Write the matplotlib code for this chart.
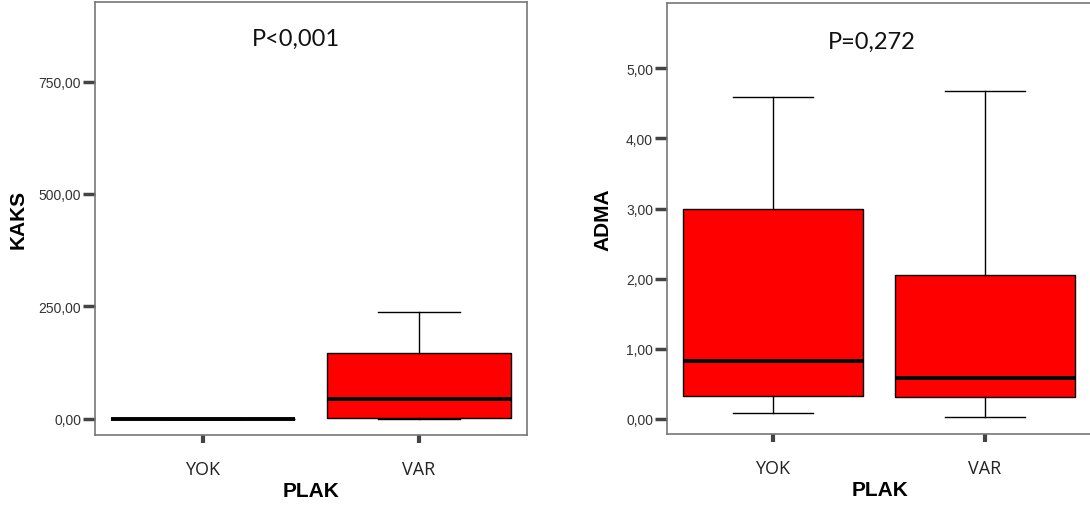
import matplotlib.pyplot as plt

# PLAK groups
groups = ['YOK', 'VAR']

# KAKS box stats (whislo, q1, med, q3, whishi)
kaks_whislo = [0.0, 0.0]
kaks_q1 = [0.0, 2.0]
kaks_med = [0.0, 44.0]
kaks_q3 = [0.0, 146.0]
kaks_whishi = [0.0, 238.0]

# ADMA box stats
adma_whislo = [0.09, 0.03]
adma_q1 = [0.33, 0.31]
adma_med = [0.82, 0.58]
adma_q3 = [3.00, 2.05]
adma_whishi = [4.59, 4.68]

kaks_ticks = [0, 250, 500, 750]
adma_ticks = [0, 1, 2, 3, 4, 5]


def box_stats(lo, q1, med, q3, hi):
    out = []
    for i in range(len(groups)):
        out.append({'label': groups[i], 'whislo': lo[i], 'q1': q1[i],
                    'med': med[i], 'q3': q3[i], 'whishi': hi[i], 'fliers': []})
    return out


def draw_panel(ax, stats, ticks, ylim, ylabel, ptext, pxy):
    ax.bxp(stats, positions=[0, 1], widths=0.85, capwidths=0.38,
           patch_artist=True, showfliers=False,
           boxprops=dict(facecolor='#ff0000', edgecolor='black', linewidth=1.0),
           medianprops=dict(color='black', linewidth=2.8, solid_capstyle='butt'),
           whiskerprops=dict(color='black', linewidth=1.0),
           capprops=dict(color='black', linewidth=1.0))
    ax.set_xlim(-0.5, 1.5)
    ax.set_ylim(*ylim)
    ax.set_yticks(ticks)
    # comma as decimal separator
    ax.set_yticklabels([('%.2f' % t).replace('.', ',') for t in ticks],
                       fontsize=10, family='Liberation Sans', color='#333333')
    ax.set_xticks([0, 1])
    ax.set_xticklabels(groups, fontsize=13, family='Open Sans', color='#222222')
    ax.tick_params(axis='y', length=9, width=2.5, color='#444444', pad=1)
    ax.tick_params(axis='x', length=6, width=3, color='#444444', pad=12)
    for s in ax.spines.values():
        s.set_color('#777777')
        s.set_linewidth(1.2)
    ax.set_xlabel('PLAK', fontsize=15, fontweight='bold', family='Liberation Sans', labelpad=2)
    ax.set_ylabel(ylabel, fontsize=15, fontweight='bold', family='Liberation Sans')
    ax.text(pxy[0], pxy[1], ptext, transform=ax.transAxes, fontsize=17,
            family='Lato', ha='center', va='center', color='#111111')


fig = plt.figure(figsize=(10.9, 5.1), dpi=100)
W, H = 1090.0, 510.0
ax1 = fig.add_axes([95 / W, (H - 436) / H, 432 / W, 433 / H])
ax2 = fig.add_axes([667 / W, (H - 435) / H, 426 / W, 431 / H])

draw_panel(ax1, box_stats(kaks_whislo, kaks_q1, kaks_med, kaks_q3, kaks_whishi),
           kaks_ticks, (-35.6, 926.7), 'KAKS', 'P<0,001', (0.465, 0.915))
draw_panel(ax2, box_stats(adma_whislo, adma_q1, adma_med, adma_q3, adma_whishi),
           adma_ticks, (-0.214, 5.93), 'ADMA', 'P=0,272', (0.48, 0.91))
# right panel reaches to the figure edge; move the median/caps x-scale accordingly
ax2.set_xlim(-0.5, 1.51)

ax1.yaxis.set_label_coords(-0.155, 0.5)
ax2.yaxis.set_label_coords(-0.127, 0.5)

fig.savefig('out.png', dpi=100, facecolor='white')
